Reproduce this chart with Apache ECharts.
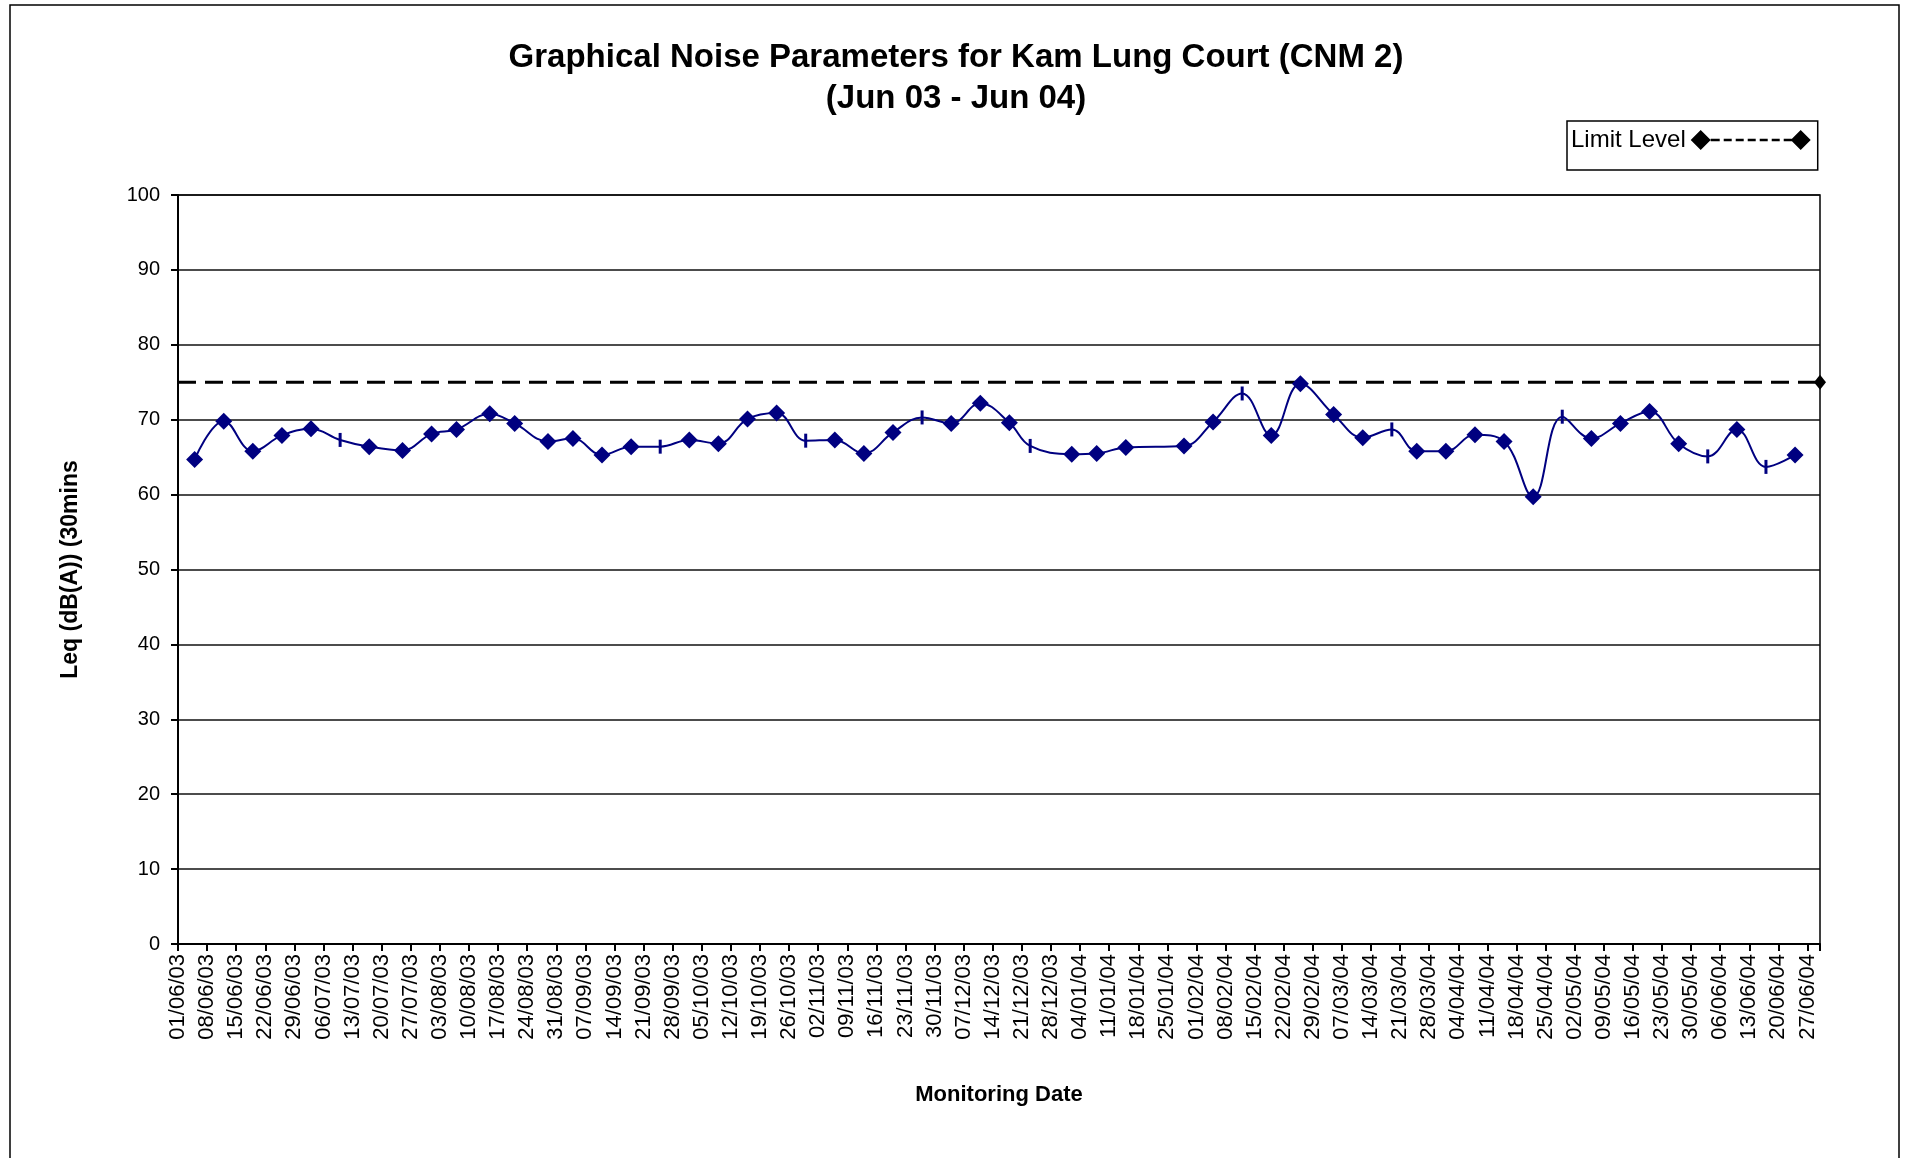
<!DOCTYPE html>
<html>
<head>
<meta charset="utf-8">
<script src="https://cdn.jsdelivr.net/npm/echarts@6/dist/echarts.min.js"></script>
<style>
html,body{margin:0;padding:0;background:#fff;}
#chart{width:1912px;height:1158px;}
</style>
</head>
<body>
<div id="chart"></div>
<script>
// ---- data ----
const titleLines = ['Graphical Noise Parameters for Kam Lung Court (CNM 2)', '(Jun 03 - Jun 04)'];
const axisStartDate = '01/06/03';
const axisEndDate = '30/06/04';
const tickStepDays = 7;
const yMin = 0, yMax = 100, yStep = 10;

const dates = [
  '05/06/03','12/06/03','19/06/03','26/06/03','03/07/03','10/07/03','17/07/03','25/07/03',
  '01/08/03','07/08/03','15/08/03','21/08/03','29/08/03','04/09/03','11/09/03','18/09/03',
  '25/09/03','02/10/03','09/10/03','16/10/03','23/10/03','30/10/03','06/11/03','13/11/03',
  '20/11/03','27/11/03','04/12/03','11/12/03','18/12/03','23/12/03','02/01/04','08/01/04',
  '15/01/04','29/01/04','05/02/04','12/02/04','19/02/04','26/02/04','05/03/04','12/03/04',
  '19/03/04','25/03/04','01/04/04','08/04/04','15/04/04','22/04/04','29/04/04','06/05/04',
  '13/05/04','20/05/04','27/05/04','03/06/04','10/06/04','17/06/04','24/06/04'
];
const leqValues = [
  64.7, 69.8, 65.8, 67.9, 68.8, 67.3, 66.4, 65.9,
  68.1, 68.7, 70.8, 69.5, 67.1, 67.5, 65.3, 66.4,
  66.4, 67.3, 66.8, 70.1, 70.9, 67.2, 67.3, 65.5,
  68.3, 70.3, 69.5, 72.2, 69.6, 66.5, 65.4, 65.5,
  66.3, 66.5, 69.7, 73.5, 67.9, 74.8, 70.7, 67.6,
  68.7, 65.8, 65.8, 68.0, 67.1, 59.7, 70.4, 67.5,
  69.5, 71.1, 66.8, 65.1, 68.7, 63.7, 65.3
];
// points drawn with a short vertical bar instead of a diamond
const barMarkerDates = ['10/07/03','25/09/03','30/10/03','27/11/03','23/12/03','12/02/04','19/03/04','29/04/04','03/06/04','17/06/04'];

const limitName = 'Limit Level';
const limitDates = ['01/06/03', '30/06/04'];
const limitValues = [75, 75];

const yAxisName = 'Leq (dB(A)) (30mins';
const xAxisName = 'Monitoring Date';

// ---- helpers ----
function parseDMY(s){ const p = s.split('/').map(Number); return Date.UTC(2000 + p[2], p[1] - 1, p[0]); }
const START = parseDMY(axisStartDate);
function toDay(s){ return Math.round((parseDMY(s) - START) / 86400000); }
function pad(n){ return (n < 10 ? '0' : '') + n; }
function dayLabel(v){
  const d = new Date(START + v * 86400000);
  return pad(d.getUTCDate()) + '/' + pad(d.getUTCMonth() + 1) + '/' + pad(d.getUTCFullYear() % 100);
}
const barSet = new Set(barMarkerDates);
const leqData = dates.map((d, i) => [toDay(d), leqValues[i]]);
const limitData = limitDates.map((d, i) => [toDay(d), limitValues[i]]);
const xMax = toDay(axisEndDate);

const FONT = '"Liberation Sans", Arial, Helvetica, sans-serif';

const legendIcon = 'path://M0 10L10 0L20 10L10 20Z' +
  'M20 8.8H29V11.2H20Z M33 8.8H41V11.2H33Z M45 8.8H53V11.2H45Z M57 8.8H65V11.2H57Z' +
  'M69 8.8H77V11.2H69Z M81 8.8H89V11.2H81Z M93 8.8H101V11.2H93Z' +
  'M100 10L110 0L120 10L110 20Z';

const chart = echarts.init(document.getElementById('chart'), null, {renderer: 'canvas'});
chart.setOption({
  animation: false,
  backgroundColor: '#fff',
  textStyle: {fontFamily: FONT, color: '#000'},
  title: {
    text: titleLines.join('\n'),
    left: 'center',
    top: 32,
    textStyle: {fontFamily: FONT, fontSize: 33, fontWeight: 'bold', color: '#000', lineHeight: 41}
  },
  legend: {
    data: [limitName],
    left: 1567,
    top: 121,
    orient: 'horizontal',
    align: 'right',
    icon: legendIcon,
    itemWidth: 120,
    itemHeight: 20,
    borderColor: '#000',
    borderWidth: 1.5,
    padding: [7, 7, 18, 4],
    selectedMode: false,
    textStyle: {fontFamily: FONT, fontSize: 24, color: '#000'}
  },
  graphic: [{
    type: 'rect',
    shape: {x: 10, y: 5, width: 1889, height: 1200},
    style: {fill: 'none', stroke: '#000', lineWidth: 1.5},
    silent: true,
    z: -1
  }],
  grid: {
    left: 178, right: 92, top: 195, bottom: 214,
    show: true, borderColor: '#000', borderWidth: 1.5, backgroundColor: 'transparent'
  },
  xAxis: {
    type: 'value',
    min: 0,
    max: xMax,
    interval: tickStepDays,
    name: xAxisName,
    nameLocation: 'middle',
    nameGap: 140,
    nameTextStyle: {fontFamily: FONT, fontSize: 22, fontWeight: 'bold', color: '#000'},
    axisLine: {show: true, lineStyle: {color: '#000', width: 2}},
    axisTick: {show: true, inside: false, length: 7, lineStyle: {color: '#000', width: 2}},
    splitLine: {show: false},
    axisLabel: {
      rotate: 90,
      margin: 10,
      fontFamily: FONT,
      fontSize: 22,
      color: '#000',
      formatter: v => (v % tickStepDays === 0 ? dayLabel(v) : '')
    }
  },
  yAxis: {
    type: 'value',
    min: yMin,
    max: yMax,
    interval: yStep,
    name: yAxisName,
    nameLocation: 'middle',
    nameGap: 96,
    nameRotate: 90,
    nameTextStyle: {fontFamily: FONT, fontSize: 23, fontWeight: 'bold', color: '#000'},
    axisLine: {show: true, lineStyle: {color: '#000', width: 2}},
    axisTick: {show: true, inside: false, length: 7, lineStyle: {color: '#000', width: 2}},
    splitLine: {show: true, lineStyle: {color: '#111', width: 1.6}},
    axisLabel: {margin: 18, fontFamily: FONT, fontSize: 20, color: '#000'}
  },
  series: [
    {
      name: 'Leq',
      type: 'line',
      data: leqData,
      smooth: 0.4,
      color: '#000080',
      lineStyle: {color: '#000080', width: 2},
      itemStyle: {color: '#000080'},
      symbol: (val, params) => barSet.has(dates[params.dataIndex]) ? 'rect' : 'diamond',
      symbolSize: (val, params) => barSet.has(dates[params.dataIndex]) ? [3, 14] : 17,
      showAllSymbol: true,
      z: 3
    },
    {
      name: limitName,
      type: 'line',
      data: limitData,
      color: '#000',
      lineStyle: {color: '#000', width: 3, type: [18, 9]},
      itemStyle: {color: '#000'},
      symbol: (val, params) => params.dataIndex === limitData.length - 1 ? 'diamond' : 'none',
      symbolSize: [12, 15],
      showAllSymbol: true,
      z: 2
    }
  ]
});
</script>
</body>
</html>
